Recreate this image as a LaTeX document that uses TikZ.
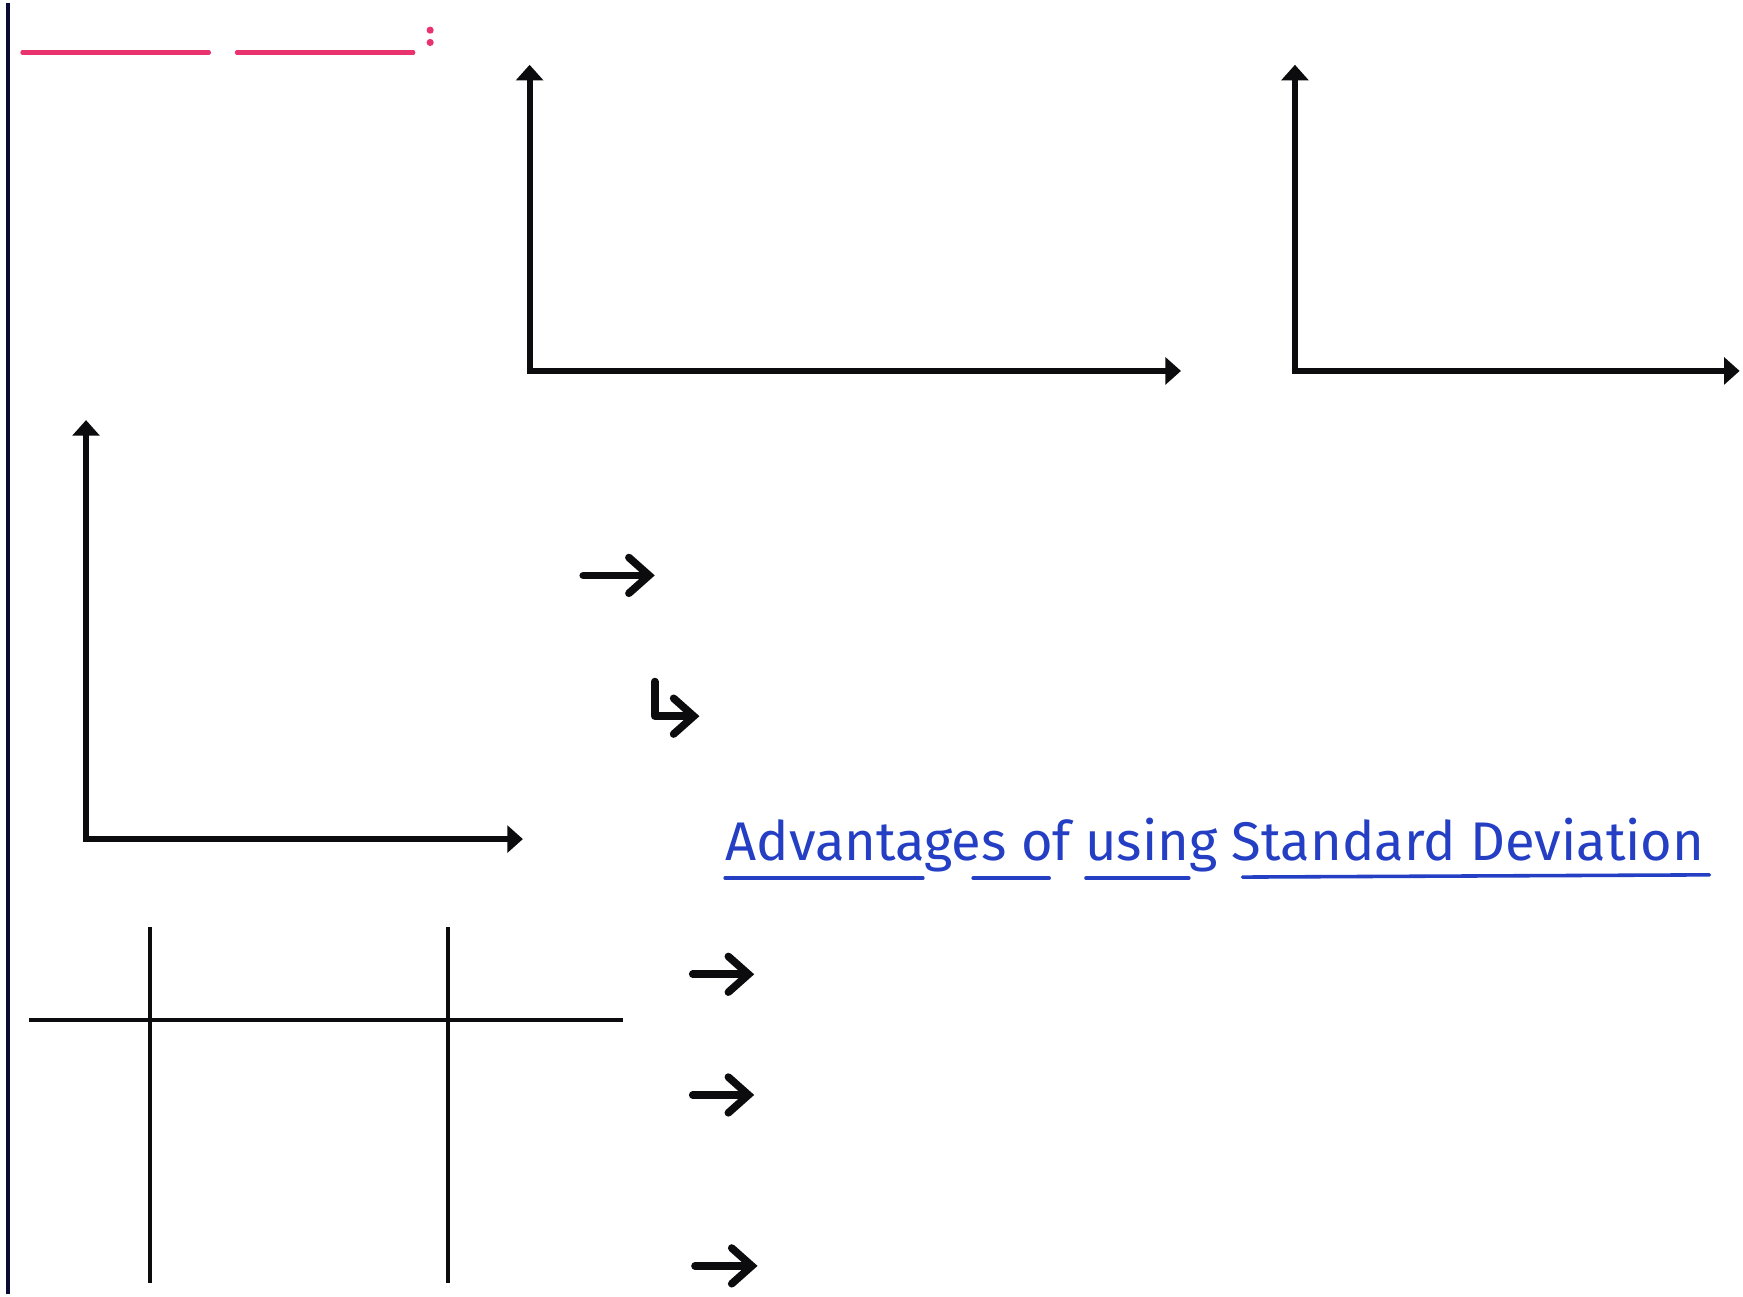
\documentclass[tikz,border=0pt]{standalone}
\usepackage{graphicx}
\usepackage{fontspec}
\setmainfont{Fira Sans}
\usetikzlibrary{arrows.meta}
\definecolor{pinkink}{RGB}{232,51,110}
\definecolor{blueink}{RGB}{36,62,196}
\definecolor{inkblack}{RGB}{12,12,14}
\tikzset{
  axisline/.style={line width=2.7pt, draw=inkblack, line join=miter,
    {Triangle[length=7pt,width=12pt]}-{Triangle[length=7pt,width=12pt]}},
  handarrow/.style={line width=3.4pt, draw=inkblack, line cap=round, line join=round,
    -{Straight Barb[length=9pt,width=16pt,line width=3.4pt,line cap=round]}},
  margin/.style={line width=1.6pt, draw=inkblack!85!blue},
  pinkline/.style={line width=1.8pt, draw=pinkink, line cap=round},
  gridline/.style={line width=1.9pt, draw=inkblack},
  underl/.style={line width=1.6pt, draw=blueink, line cap=round},
}
\begin{document}
\begin{tikzpicture}[x=0.5pt,y=-0.5pt]
\useasboundingbox[fill=white] (0,0) rectangle (1560,1160);

% margin line
\coordinate (mt) at (7,3);
\coordinate (mb) at (7,1158);
\draw[margin] (mt) -- (mb);

% pink heading blanks
\coordinate (p1a) at (20,47); \coordinate (p1b) at (187,47);
\coordinate (p2a) at (212,47); \coordinate (p2b) at (370,47);
\draw[pinkline] (p1a) -- (p1b);
\draw[pinkline] (p2a) -- (p2b);
\fill[pinkink] (385,27) circle[radius=3.2];
\fill[pinkink] (385,38) circle[radius=3.2];

% chart 1
\coordinate (c1y) at (474,58); \coordinate (c1o) at (474,332); \coordinate (c1x) at (1057,332);
\draw[axisline] (c1y) -- (c1o) -- (c1x);
% chart 2
\coordinate (c2y) at (1159,58); \coordinate (c2o) at (1159,332); \coordinate (c2x) at (1557,332);
\draw[axisline] (c2y) -- (c2o) -- (c2x);
% chart 3
\coordinate (c3y) at (77,376); \coordinate (c3o) at (77,751); \coordinate (c3x) at (468,751);
\draw[axisline] (c3y) -- (c3o) -- (c3x);

% hand-drawn arrows
\coordinate (a1s) at (522,515); \coordinate (a1e) at (586,515);
\draw[handarrow] (a1s) -- (a1e);
\coordinate (h1s) at (586,610); \coordinate (h1c) at (586,641); \coordinate (h1e) at (626,641);
\draw[handarrow] (h1s) -- (h1c) -- (h1e);
\coordinate (a2s) at (620,872); \coordinate (a2e) at (675,872);
\draw[handarrow] (a2s) -- (a2e);
\coordinate (a3s) at (620,980); \coordinate (a3e) at (675,980);
\draw[handarrow] (a3s) -- (a3e);
\coordinate (a4s) at (622,1133); \coordinate (a4e) at (678,1133);
\draw[handarrow] (a4s) -- (a4e);

% title
\node[anchor=base west, text=blueink, inner sep=0pt] (title) at (649,770)
  {\resizebox{438pt}{19pt}{\fontsize{28}{30}\selectfont Advantages of using Standard Deviation}};
\draw[underl] (649,786) -- (826,786);
\draw[underl] (871,786) -- (939,786);
\draw[underl] (972,786) -- (1064,786);
\draw[underl] (1112,785) -- (1530,783);

% T-table
\coordinate (th1) at (26,913); \coordinate (th2) at (558,913);
\draw[gridline] (th1) -- (th2);
\coordinate (tv1a) at (134,830); \coordinate (tv1b) at (134,1148);
\coordinate (tv2a) at (401,830); \coordinate (tv2b) at (401,1148);
\draw[gridline] (tv1a) -- (tv1b);
\draw[gridline] (tv2a) -- (tv2b);
\end{tikzpicture}
\end{document}
